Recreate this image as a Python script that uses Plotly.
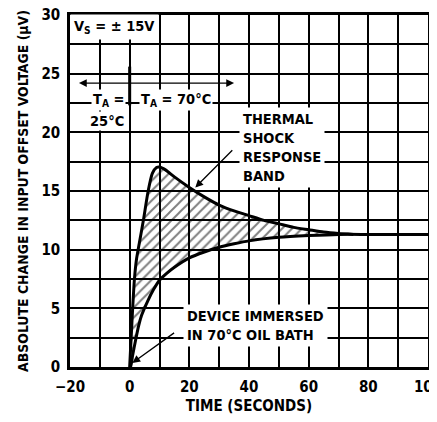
import plotly.graph_objects as go

# ---- data ----
upper_t = [0, 0.5, 1, 1.6, 2.3, 3.2, 4.6, 6.2, 7.6, 9, 10, 12, 15, 20, 25, 30, 35, 40, 45, 50, 55, 60, 65, 70, 75]
upper_v = [0, 2.5, 5, 7.5, 9.2, 10.5, 12.5, 15, 16.5, 17, 17.05, 16.8, 16.2, 15.3, 14.5, 13.8, 13.3, 12.9, 12.5, 12.2, 11.9, 11.7, 11.5, 11.38, 11.3]

lower_t = [0, 0.3, 1, 2, 3, 4, 6, 8, 10, 12.5, 15, 20, 25, 30, 35, 40, 50, 60, 70, 80, 90, 100]
lower_v = [0, 0, 1.0, 2.3, 3.5, 4.4, 5.6, 6.6, 7.4, 8.0, 8.5, 9.3, 9.8, 10.2, 10.5, 10.75, 11.05, 11.2, 11.3, 11.3, 11.3, 11.3]

split_t = [0, 0]
split_v = [22.3, 25.6]

x_range = [-20, 100]
y_range = [0, 30]

FONT = "Liberation Sans Narrow, DejaVu Sans Condensed, Arial Narrow, sans-serif"
BLACK = "#000000"
GW = 1.6

fig = go.Figure()

fig.add_trace(go.Scatter(
    x=lower_t, y=lower_v, mode="lines",
    line=dict(color=BLACK, width=3, shape="spline", smoothing=0.6),
    hoverinfo="skip", showlegend=False))

fig.add_trace(go.Scatter(
    x=upper_t, y=upper_v, mode="lines",
    line=dict(color=BLACK, width=3, shape="spline", smoothing=0.6),
    fill="tonexty", fillcolor="rgba(0,0,0,0)",
    fillpattern=dict(shape="/", fgcolor=BLACK, bgcolor="rgba(0,0,0,0)", size=7, solidity=0.28),
    hoverinfo="skip", showlegend=False))

fig.add_trace(go.Scatter(
    x=split_t, y=split_v, mode="lines",
    line=dict(color=BLACK, width=3),
    hoverinfo="skip", showlegend=False))

font = dict(family=FONT, size=14.5, color=BLACK, weight="bold")

def label(text, x, y, pad=3):
    fig.add_annotation(x=x, y=y, text=text, showarrow=False, xanchor="left",
                       yanchor="middle", align="left", font=font,
                       bgcolor="white", borderpad=pad)

label("V<sub>S</sub> = ± 15V", -20.0, 29.0)
label("T<sub>A</sub> =", -12.8, 22.75, pad=1)
label("25°C", -14.1, 21.0, pad=1)
label("T<sub>A</sub> = 70°C", 3.0, 22.75, pad=1)
label("THERMAL<br>SHOCK<br>RESPONSE<br>BAND", 36.6, 18.75)
label("DEVICE IMMERSED<br>IN 70°C OIL BATH", 17.8, 3.5)

def arrow(x, y, ax, ay, side="end"):
    fig.add_annotation(x=x, y=y, ax=ax, ay=ay, axref="x", ayref="y",
                       text="", showarrow=True, arrowhead=2, arrowsize=1.2,
                       arrowwidth=1.3, arrowcolor=BLACK, arrowside=side)

arrow(35, 24.2, -17.5, 24.2, side="end+start")
arrow(22, 15.3, 34.9, 18.6)
arrow(0.9, 0.35, 15.4, 3.0)

grid = dict(showgrid=True, gridcolor=BLACK, gridwidth=GW)

fig.update_xaxes(
    range=x_range, tick0=0, dtick=20, ticks="", **grid,
    minor=dict(dtick=10, showgrid=True, gridcolor=BLACK, gridwidth=GW),
    showline=True, linecolor=BLACK, linewidth=2.5, mirror=True, zeroline=False,
    automargin=False, ticklabeloverflow="allow", ticklabelstandoff=4,
    tickfont=dict(family=FONT, size=15, color=BLACK, weight="bold"),
    title=dict(text="TIME (SECONDS)", font=dict(family=FONT, size=15, color=BLACK, weight="bold"), standoff=6),
)
fig.update_yaxes(
    range=y_range, tick0=0, dtick=5, ticks="", **grid,
    minor=dict(dtick=2.5, showgrid=True, gridcolor=BLACK, gridwidth=GW),
    showline=True, linecolor=BLACK, linewidth=2.5, mirror=True, zeroline=False,
    automargin=False, ticklabeloverflow="allow", ticklabelstandoff=4,
    tickfont=dict(family=FONT, size=15, color=BLACK, weight="bold"),
    title=dict(text="ABSOLUTE CHANGE IN INPUT OFFSET VOLTAGE (μV)",
               font=dict(family=FONT, size=13.9, color=BLACK, weight="bold"), standoff=10),
)

# the page adds an 8px body margin, so the figure is sized to fit the window
fig.update_layout(
    width=429, height=414,
    margin=dict(l=62, r=9, t=7, b=55),
    plot_bgcolor="white", paper_bgcolor="white",
    showlegend=False,
)

fig.write_html("out.html")
